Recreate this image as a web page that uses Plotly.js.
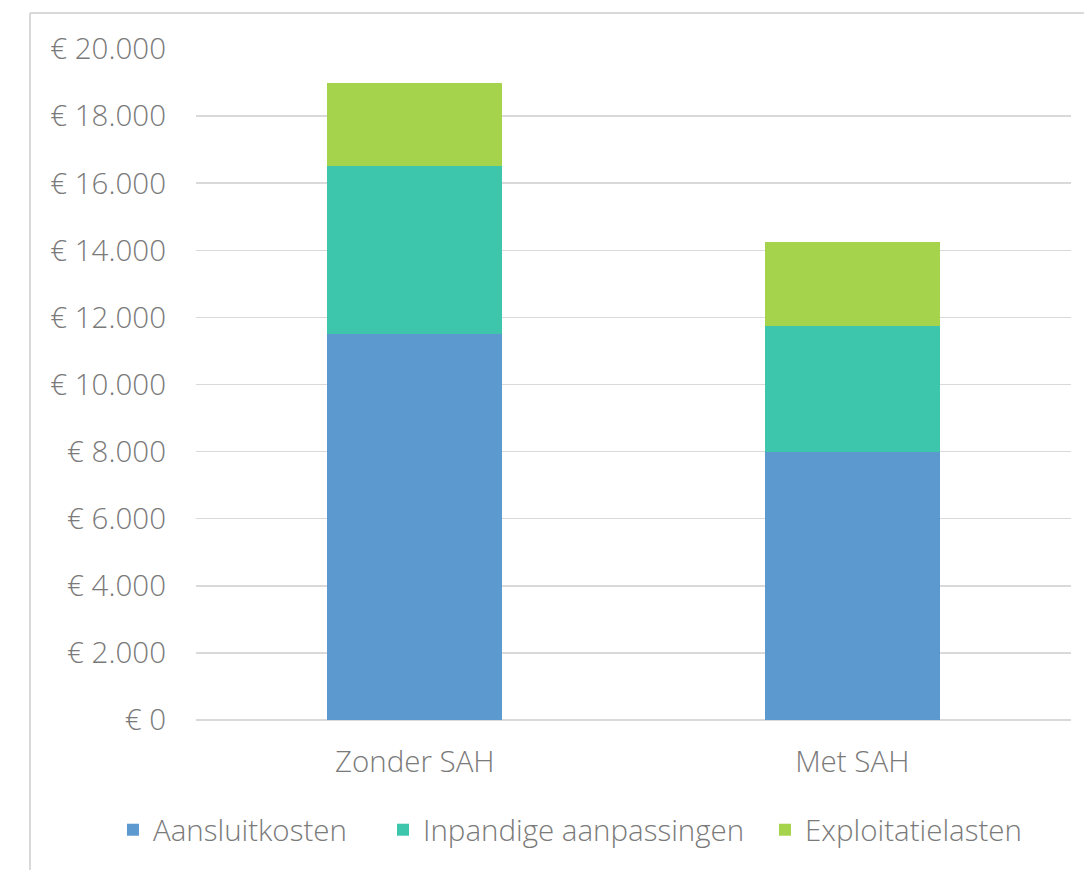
<!DOCTYPE html>
<html>
<head>
<meta charset="utf-8">
<script src="https://cdn.plot.ly/plotly-3.0.1.min.js"></script>
<style>html,body{margin:0;padding:0;background:#fff;}#chart{width:1084px;height:870px;}</style>
</head>
<body>
<div id="chart"></div>
<script>
const categories = ["Zonder SAH", "Met SAH"];
const aansluitkosten = [11500, 8000];
const inpandigeAanpassingen = [5000, 3750];
const exploitatielasten = [2500, 2500];
const seriesNames = ["Aansluitkosten", "Inpandige aanpassingen", "Exploitatielasten"];
const tickValues = [0, 2000, 4000, 6000, 8000, 10000, 12000, 14000, 16000, 18000, 20000];
const tickLabels = ["€ 0", "€ 2.000", "€ 4.000", "€ 6.000", "€ 8.000", "€ 10.000", "€ 12.000", "€ 14.000", "€ 16.000", "€ 18.000", "€ 20.000"];

const colors = ["#5B99CF", "#3EC6AD", "#A6D34C"];
const seriesValues = [aansluitkosten, inpandigeAanpassingen, exploitatielasten];
const legendIds = ["legend", "legend2", "legend3"];

const traces = seriesValues.map((vals, i) => ({
  type: "bar",
  x: categories,
  y: vals,
  name: seriesNames[i],
  legend: legendIds[i],
  marker: {color: colors[i]},
  hoverinfo: "skip"
}));

const font = {family: "Open Sans, sans-serif", size: 29.5, color: "#7a7a7a", weight: 300};
const legendX = [-0.0949, 0.2137, 0.6503];

function mkLegend(x) {
  return {
    orientation: "h",
    x: x,
    xanchor: "left",
    y: -0.164,
    yanchor: "middle",
    font: font,
    itemclick: false,
    bgcolor: "rgba(0,0,0,0)"
  };
}

const layout = {
  width: 1084,
  height: 870,
  margin: {l: 196, r: 13, t: 49, b: 150},
  barmode: "stack",
  bargap: 0.6,
  paper_bgcolor: "#ffffff",
  plot_bgcolor: "#ffffff",
  font: font,
  showlegend: true,
  xaxis: {
    type: "category",
    showgrid: false,
    showline: false,
    zeroline: false,
    ticks: "",
    tickfont: font,
    ticklabelstandoff: 21
  },
  yaxis: {
    range: [0, 20000],
    tickvals: tickValues,
    ticktext: tickLabels,
    showgrid: true,
    gridcolor: "#d9d9d9",
    gridwidth: 1.5,
    zeroline: true,
    zerolinecolor: "#d9d9d9",
    zerolinewidth: 1.5,
    showline: false,
    ticks: "",
    tickfont: font,
    ticklabelstandoff: 29
  },
  legend: mkLegend(legendX[0]),
  legend2: mkLegend(legendX[1]),
  legend3: mkLegend(legendX[2]),
  shapes: [
    {type: "line", xref: "paper", yref: "paper", x0: -0.1897, x1: 1.02, y0: 1.0537, y1: 1.0537, line: {color: "#d9d9d9", width: 2}},
    {type: "line", xref: "paper", yref: "paper", x0: -0.1897, x1: -0.1897, y0: 1.0537, y1: -0.3, line: {color: "#d9d9d9", width: 2}}
  ]
};

Plotly.newPlot("chart", traces, layout, {displayModeBar: false, staticPlot: true});
</script>
</body>
</html>
